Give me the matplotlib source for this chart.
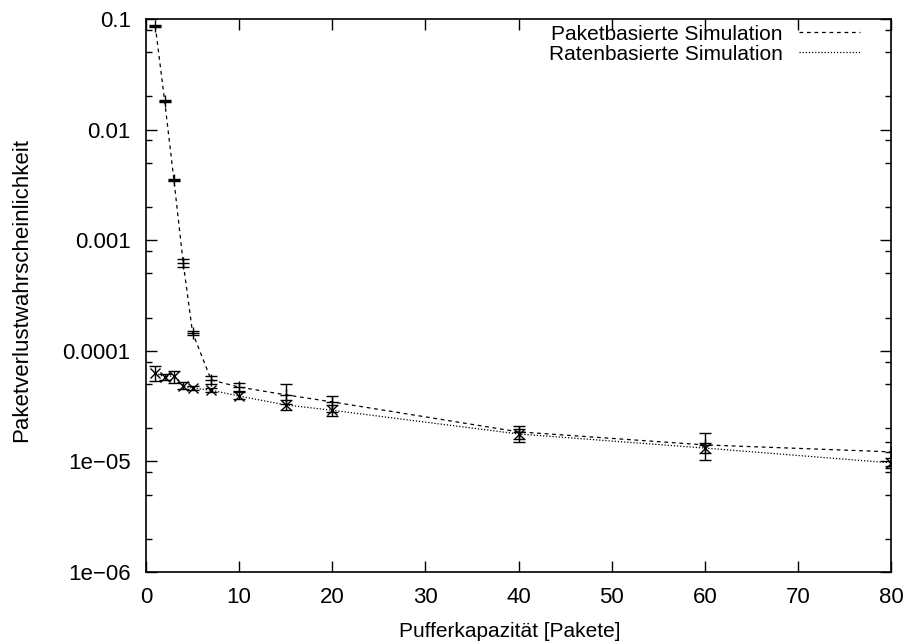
import matplotlib
matplotlib.use('Agg')
import matplotlib.pyplot as plt
from matplotlib.ticker import LogLocator, FixedLocator, FuncFormatter, NullFormatter

plt.rcParams['font.family'] = ['Liberation Sans', 'DejaVu Sans']

# buffer capacity (packets)
buffer = [1, 2, 3, 4, 5, 7, 10, 15, 20, 40, 60, 80]

# packet based simulation: value, lower and upper error bound
paket = [0.086, 0.0182, 0.0035, 0.00062, 0.000146, 5.45e-5, 4.7e-5, 4.0e-5, 3.45e-5, 1.85e-5, 1.41e-5, 1.22e-5]
paket_lo = [0.084, 0.0178, 0.0034, 0.00057, 0.000140, 5.0e-5, 4.3e-5, 3.3e-5, 2.8e-5, 1.5e-5, 1.02e-5, 9.1e-6]
paket_hi = [0.088, 0.0186, 0.0036, 0.00068, 0.000152, 5.9e-5, 5.1e-5, 5.0e-5, 3.9e-5, 2.1e-5, 1.8e-5, 1.5e-5]

# rate based simulation
rate = [6.3e-5, 5.8e-5, 5.95e-5, 4.8e-5, 4.6e-5, 4.4e-5, 3.9e-5, 3.24e-5, 2.9e-5, 1.77e-5, 1.32e-5, 9.7e-6]
rate_lo = [5.3e-5, 5.4e-5, 5.1e-5, 4.5e-5, 4.4e-5, 4.2e-5, 3.65e-5, 2.9e-5, 2.6e-5, 1.6e-5, 1.18e-5, 8.7e-6]
rate_hi = [7.3e-5, 6.2e-5, 6.5e-5, 5.2e-5, 4.8e-5, 4.65e-5, 4.2e-5, 3.6e-5, 3.25e-5, 1.97e-5, 1.48e-5, 1.08e-5]

y_ticks = [1e-6, 1e-5, 1e-4, 1e-3, 1e-2, 1e-1]
y_labels = ['1e\u221206', '1e\u221205', '0.0001', '0.001', '0.01', '0.1']

fig = plt.figure(figsize=(9.06, 6.43), dpi=100)
ax = fig.add_axes([146 / 906, 1 - 572 / 643, 745 / 906, 553 / 643])

ax.plot(buffer, paket, color='black', lw=0.9, ls=(0, (3, 3)), label='Paketbasierte Simulation')
ax.plot(buffer, rate, color='black', lw=0.9, ls=(0, (1, 1.5)), label='Ratenbasierte Simulation')

perr = [[p - l for p, l in zip(paket, paket_lo)], [h - p for p, h in zip(paket, paket_hi)]]
rerr = [[r - l for r, l in zip(rate, rate_lo)], [h - r for r, h in zip(rate, rate_hi)]]
ax.errorbar(buffer, paket, yerr=perr, fmt='+', color='black', ms=9, mew=1.0,
            elinewidth=1.0, capsize=4, capthick=1.0)
ax.errorbar(buffer, rate, yerr=rerr, fmt='x', color='black', ms=7, mew=1.0,
            elinewidth=1.0, capsize=4, capthick=1.0)

ax.set_yscale('log')
ax.set_xlim(0, 80)
ax.set_ylim(1e-6, 0.1)
ax.xaxis.set_major_locator(FixedLocator(range(0, 81, 10)))
ax.yaxis.set_major_locator(FixedLocator(y_ticks))
ax.yaxis.set_major_formatter(FuncFormatter(lambda v, pos: y_labels[y_ticks.index(min(y_ticks, key=lambda t: abs(t - v)))]))
ax.yaxis.set_minor_locator(LogLocator(base=10, subs=(2, 5, 8)))
ax.yaxis.set_minor_formatter(NullFormatter())

ax.tick_params(which='both', direction='in', top=True, right=True, labelsize=16)
ax.tick_params(axis='y', pad=11)
ax.tick_params(axis='x', pad=11)
ax.tick_params(which='major', length=8, width=1)
ax.tick_params(which='minor', length=4, width=1)
for s in ax.spines.values():
    s.set_linewidth(1.2)

ax.set_xlabel('Pufferkapazität [Pakete]', fontsize=15)
ax.xaxis.set_label_coords(0.488, -0.09)
ax.set_ylabel('Paketverlustwahrscheinlichkeit', fontsize=16)
ax.yaxis.set_label_coords(-0.153, 0.51)

ax.legend(loc='upper right', bbox_to_anchor=(0.958, 0.99), frameon=False,
          markerfirst=False, fontsize=15, handlelength=2.9, handletextpad=0.8,
          labelspacing=0.05, borderaxespad=0, borderpad=0)

fig.savefig('out.png', dpi=100)
